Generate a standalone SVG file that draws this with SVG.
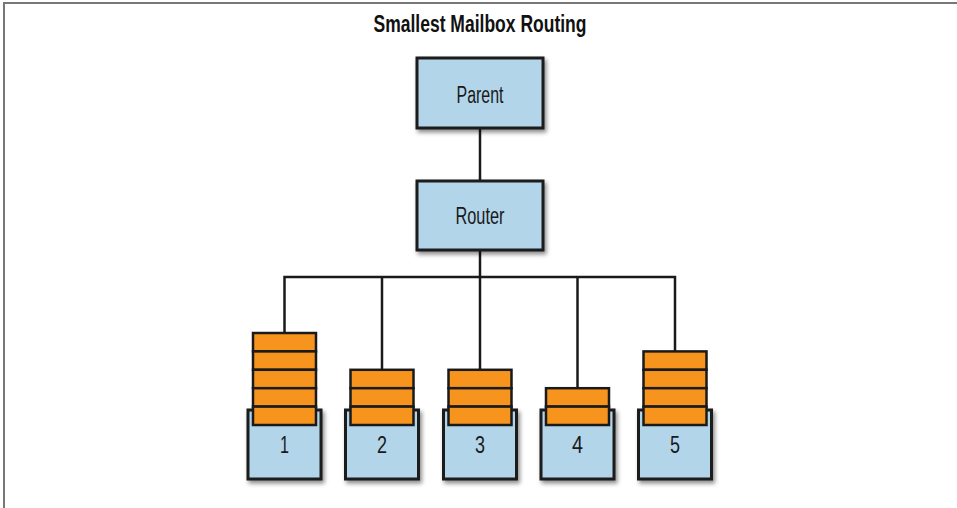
<svg xmlns="http://www.w3.org/2000/svg" width="957" height="508" viewBox="0 0 957 508">
  <defs>
    <filter id="sh" x="-20%" y="-20%" width="150%" height="150%">
      <feDropShadow dx="2" dy="3" stdDeviation="2" flood-color="#000" flood-opacity="0.45"/>
    </filter>
    <style>
      .box { fill: #b3d5ea; stroke: #1a1a1a; stroke-width: 3; filter: url(#sh); }
      .item { fill: #f7941e; stroke: #1a1a1a; stroke-width: 2.5; }
      .wire { fill: none; stroke: #1a1a1a; stroke-width: 2.5; }
      .lbl { font-family: "Liberation Sans", Arial, sans-serif; font-size: 23px; fill: #1a1a1a; text-anchor: middle; }
      .num { font-family: "Liberation Sans", Arial, sans-serif; font-size: 23px; fill: #1a1a1a; text-anchor: middle; }
      .title { font-family: "Liberation Sans", Arial, sans-serif; font-size: 23px; font-weight: bold; fill: #111; text-anchor: middle; }
      .frame { fill: none; stroke: #777; stroke-width: 2; }
    </style>
  </defs>
  <rect width="957" height="508" fill="#fff"/>
  <path class="frame" d="M4,508 V3 H957"/>
  <text class="title" x="480" y="32" textLength="213" lengthAdjust="spacingAndGlyphs">Smallest Mailbox Routing</text>

  <g id="connectors">
    <line class="wire" x1="480" y1="128" x2="480" y2="181"/>
    <line class="wire" x1="480" y1="250" x2="480" y2="277"/>
    <path class="wire" d="M284.5,333 V277 H675 V351.4"/>
    <line class="wire" x1="382" y1="277" x2="382" y2="369.8"/>
    <line class="wire" x1="480" y1="277" x2="480" y2="369.8"/>
    <line class="wire" x1="577.5" y1="277" x2="577.5" y2="388.2"/>
  </g>

  <g id="parent">
    <rect class="box" x="417" y="58" width="126" height="70"/>
    <text class="lbl" x="480" y="103" textLength="47" lengthAdjust="spacingAndGlyphs">Parent</text>
  </g>
  <g id="router">
    <rect class="box" x="417" y="181" width="126" height="69"/>
    <text class="lbl" x="480" y="224" textLength="49" lengthAdjust="spacingAndGlyphs">Router</text>
  </g>

  <g id="mailbox1">
    <rect class="box" x="248" y="410" width="73" height="69"/>
    <rect class="item" x="253" y="333" width="63" height="18.4"/>
    <rect class="item" x="253" y="351.4" width="63" height="18.4"/>
    <rect class="item" x="253" y="369.8" width="63" height="18.4"/>
    <rect class="item" x="253" y="388.2" width="63" height="18.4"/>
    <rect class="item" x="253" y="406.6" width="63" height="18.4"/>
    <text class="num" x="284.5" y="453" textLength="9" lengthAdjust="spacingAndGlyphs">1</text>
  </g>
  <g id="mailbox2">
    <rect class="box" x="345.5" y="410" width="73" height="69"/>
    <rect class="item" x="350.5" y="369.8" width="63" height="18.4"/>
    <rect class="item" x="350.5" y="388.2" width="63" height="18.4"/>
    <rect class="item" x="350.5" y="406.6" width="63" height="18.4"/>
    <text class="num" x="382" y="453" textLength="10" lengthAdjust="spacingAndGlyphs">2</text>
  </g>
  <g id="mailbox3">
    <rect class="box" x="443.5" y="410" width="73" height="69"/>
    <rect class="item" x="448.5" y="369.8" width="63" height="18.4"/>
    <rect class="item" x="448.5" y="388.2" width="63" height="18.4"/>
    <rect class="item" x="448.5" y="406.6" width="63" height="18.4"/>
    <text class="num" x="480" y="453" textLength="10" lengthAdjust="spacingAndGlyphs">3</text>
  </g>
  <g id="mailbox4">
    <rect class="box" x="541" y="410" width="73" height="69"/>
    <rect class="item" x="546" y="388.2" width="63" height="18.4"/>
    <rect class="item" x="546" y="406.6" width="63" height="18.4"/>
    <text class="num" x="577.5" y="453" textLength="11" lengthAdjust="spacingAndGlyphs">4</text>
  </g>
  <g id="mailbox5">
    <rect class="box" x="638.5" y="410" width="73" height="69"/>
    <rect class="item" x="643.5" y="351.4" width="63" height="18.4"/>
    <rect class="item" x="643.5" y="369.8" width="63" height="18.4"/>
    <rect class="item" x="643.5" y="388.2" width="63" height="18.4"/>
    <rect class="item" x="643.5" y="406.6" width="63" height="18.4"/>
    <text class="num" x="675" y="453" textLength="10" lengthAdjust="spacingAndGlyphs">5</text>
  </g>
</svg>
